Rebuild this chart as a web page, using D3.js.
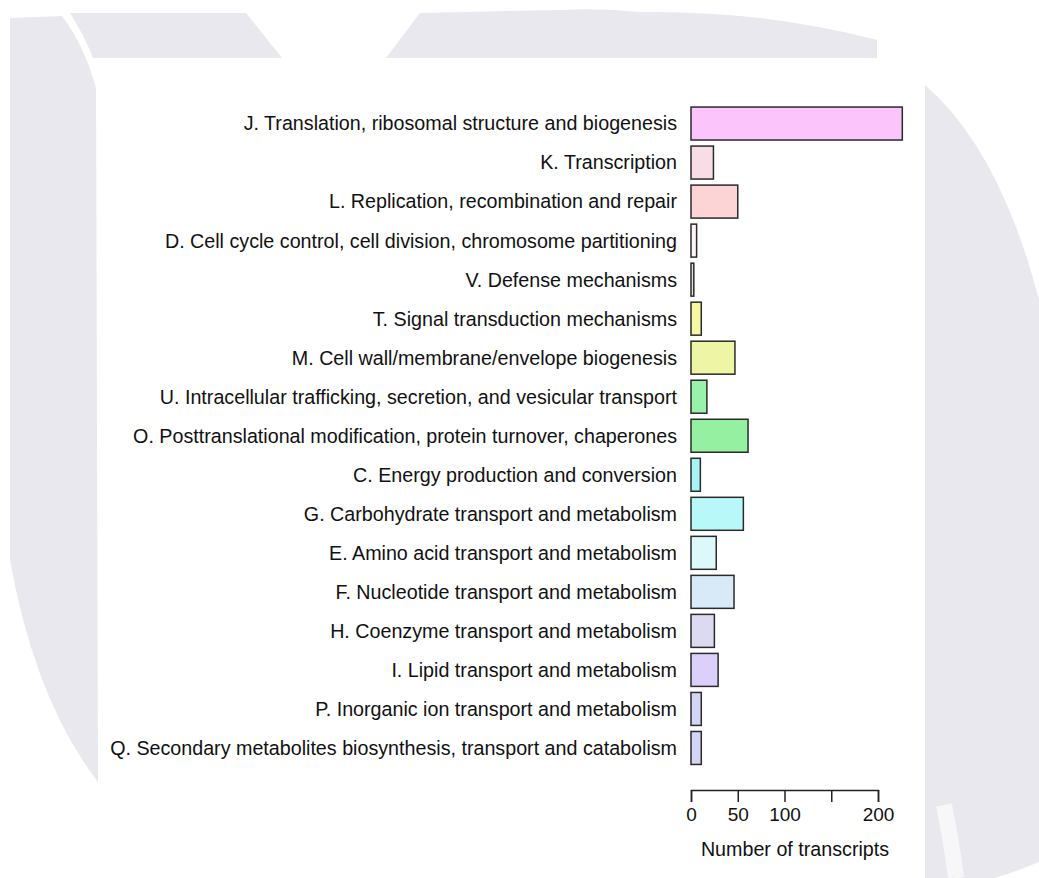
<!DOCTYPE html>
<html>
<head>
<meta charset="utf-8">
<script src="https://cdn.jsdelivr.net/npm/d3@7"></script>
<style>
  html, body { margin: 0; padding: 0; background: #ffffff; }
  svg { display: block; }
  text { font-family: "Liberation Sans", Arial, Helvetica, sans-serif; fill: #111; }
</style>
</head>
<body>
<svg id="chart" width="1039" height="878"></svg>
<script>
// COG functional categories, top to bottom
const categories = [
  "J. Translation, ribosomal structure and biogenesis",
  "K. Transcription",
  "L. Replication, recombination and repair",
  "D. Cell cycle control, cell division, chromosome partitioning",
  "V. Defense mechanisms",
  "T. Signal transduction mechanisms",
  "M. Cell wall/membrane/envelope biogenesis",
  "U. Intracellular trafficking, secretion, and vesicular transport",
  "O. Posttranslational modification, protein turnover, chaperones",
  "C. Energy production and conversion",
  "G. Carbohydrate transport and metabolism",
  "E. Amino acid transport and metabolism",
  "F. Nucleotide transport and metabolism",
  "H. Coenzyme transport and metabolism",
  "I. Lipid transport and metabolism",
  "P. Inorganic ion transport and metabolism",
  "Q. Secondary metabolites biosynthesis, transport and catabolism"
];

// Number of transcripts per category
const transcripts = [226, 24, 50, 6, 3, 11, 47, 17, 61, 10, 56, 27, 46, 25, 29, 11, 11];

// Fill colour per category
const fills = [
  "#fbc4fa", "#f9dde6", "#fcd4d6", "#fdf4f8", "#e4e4ea", "#f6f8a2", "#eef6a6",
  "#98f2aa", "#96f0a2", "#a6f4f4", "#b8f8f8", "#dcf8f8", "#d8eaf8", "#dcdaf0",
  "#dcd0fa", "#d4d4f4", "#d4d4f4"
];

const xTicks = [0, 50, 100, 150, 200];
const xTickLabels = ["0", "50", "100", "", "200"];
const xTitle = "Number of transcripts";

const svg = d3.select("#chart");

// Light page decoration behind the figure
const deco = svg.append("g").attr("fill", "#e8e8ee");
deco.append("path").attr("d", "M10,18 L62,16 Q84,45 96,88 L98,782 Q35,700 10,560 Z");
deco.append("path").attr("d", "M70,13 L246,13 L282,58 L93,58 Q84,35 70,13 Z");
deco.append("path").attr("d", "M420,13 L560,10 Q600,8 640,12 Q760,10 877,40 L877,58 L386,58 Z");
deco.append("path").attr("d", "M925,85 Q1000,150 1039,300 L1039,862 Q1015,872 995,878 L925,878 Z");
svg.append("path")
  .attr("d", "M944,805 Q952,845 956,878")
  .attr("fill", "none").attr("stroke", "#f7f7fa").attr("stroke-width", 16);

// Scales
const x = d3.scaleLinear().domain([0, 200]).range([691, 878]);
const y = d3.scaleBand().domain(categories).range([101, 770.5]).padding(0.155);

// Bars
svg.append("g")
  .selectAll("rect")
  .data(categories)
  .join("rect")
  .attr("x", x(0))
  .attr("y", d => y(d))
  .attr("width", (d, i) => x(transcripts[i]) - x(0))
  .attr("height", y.bandwidth())
  .attr("fill", (d, i) => fills[i])
  .attr("stroke", "#2a2a2a")
  .attr("stroke-width", 1.5);

// Category labels
svg.append("g")
  .selectAll("text")
  .data(categories)
  .join("text")
  .attr("x", x(0) - 14)
  .attr("y", d => y(d) + y.bandwidth() / 2)
  .attr("dy", "0.35em")
  .attr("text-anchor", "end")
  .style("font-size", "19.7px")
  .text(d => d);

// Horizontal axis
const axis = d3.axisBottom(x)
  .tickValues(xTicks)
  .tickFormat((d, i) => xTickLabels[i])
  .tickSize(12)
  .tickPadding(6);

const gAxis = svg.append("g")
  .attr("transform", "translate(0,790)")
  .call(axis);
gAxis.select(".domain").attr("stroke", "#222").attr("stroke-width", 1.5);
gAxis.selectAll(".tick line").attr("stroke", "#222").attr("stroke-width", 1.5);
gAxis.selectAll(".tick text")
  .style("font-size", "19px")
  .style("font-family", "'Liberation Sans', Arial, sans-serif")
  .attr("fill", "#111");

svg.append("text")
  .attr("x", 795)
  .attr("y", 856)
  .attr("text-anchor", "middle")
  .style("font-size", "19.7px")
  .text(xTitle);
</script>
</body>
</html>
